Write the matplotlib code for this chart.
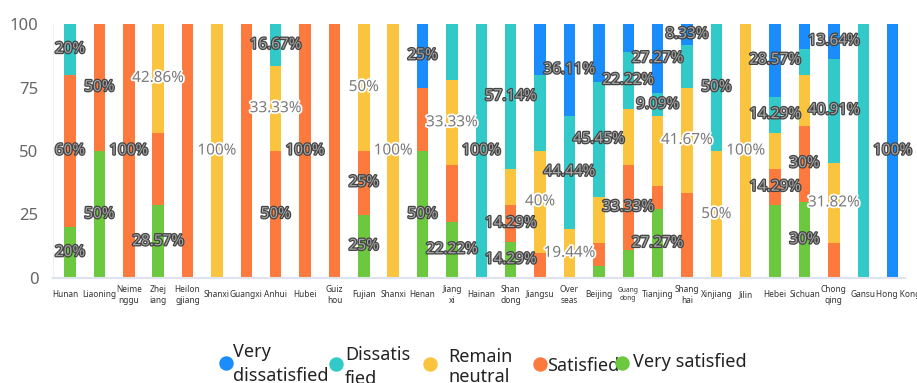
import matplotlib.pyplot as plt
import matplotlib.patheffects as pe
import matplotlib.transforms as mtransforms
import numpy as np

plt.rcParams['font.family'] = ['Noto Sans', 'DejaVu Sans']

categories = ["Hunan", "Liaoning", "Neime\nnggu", "Zhej\niang", "Heilon\ngjiang",
              "Shanxi", "Guangxi", "Anhui", "Hubei", "Guiz\nhou", "Fujian", "Shanxi",
              "Henan", "Jiang\nxi", "Hainan", "Shan\ndong", "Jiangsu", "Over\nseas",
              "Beijing", "Guang\ndong", "Tianjing", "Shang\nhai", "Xinjiang", "Jilin",
              "Hebei", "Sichuan", "Chong\nqing", "Gansu", "Hong Kong"]

# percentages per category, stacked bottom -> top
very_satisfied = [20, 50, 0, 28.57, 0, 0, 0, 0, 0, 0, 25, 0, 50, 22.22, 0, 14.29, 0, 0,
                  4.55, 11.11, 27.27, 0, 0, 0, 28.57, 30, 0, 0, 0]
satisfied = [60, 50, 100, 28.57, 100, 0, 100, 50, 100, 100, 25, 0, 25, 22.22, 0, 14.29, 10, 0,
             9.09, 33.33, 9.09, 33.33, 0, 0, 14.29, 30, 13.64, 0, 0]
neutral = [0, 0, 0, 42.86, 0, 100, 0, 33.33, 0, 0, 50, 100, 0, 33.33, 0, 14.29, 40, 19.44,
           18.18, 22.22, 27.27, 41.67, 50, 100, 14.29, 20, 31.82, 0, 0]
dissatisfied = [20, 0, 0, 0, 0, 0, 0, 16.67, 0, 0, 0, 0, 0, 22.22, 100, 57.14, 30, 44.44,
                45.45, 22.22, 9.09, 16.67, 50, 0, 14.29, 10, 40.91, 100, 0]
very_dissatisfied = [0, 0, 0, 0, 0, 0, 0, 0, 0, 0, 0, 0, 25, 0, 0, 0, 20, 36.11,
                     22.73, 11.11, 27.27, 8.33, 0, 0, 28.57, 10, 13.64, 0, 100]

# labels that survive overlap hiding
shown_vs = [0, 1, 3, 10, 12, 13, 15, 20, 25]
shown_s = [0, 1, 2, 7, 8, 10, 15, 19, 24, 25]
shown_n = [3, 5, 7, 10, 11, 13, 16, 17, 21, 22, 23, 26]
shown_d = [0, 7, 14, 15, 17, 18, 19, 20, 22, 24, 26]
shown_vd = [12, 17, 20, 21, 24, 26, 28]

GREEN, ORANGE, YELLOW, TEAL, BLUE = '#6cc83e', '#fd7a3e', '#fbc43e', '#31cac8', '#1a8cfc'

series = [
    (very_satisfied, GREEN, shown_vs),
    (satisfied, ORANGE, shown_s),
    (neutral, YELLOW, shown_n),
    (dissatisfied, TEAL, shown_d),
    (very_dissatisfied, BLUE, shown_vd),
]

fig = plt.figure(figsize=(9.17, 3.83), dpi=100)
ax = fig.add_axes([53 / 917, 105 / 383, 852 / 917, 254 / 383])

x = np.arange(len(categories))
bottom = np.zeros(len(categories))
for vals, color, shown in series:
    vals = np.array(vals, dtype=float)
    ax.bar(x, vals, width=0.39, bottom=bottom, color=color, zorder=2)
    for i in shown:
        if color == YELLOW:
            fx = [pe.withStroke(linewidth=2.5, foreground='white')]
            tc = '#7a7a7a'
        else:
            fx = [pe.withStroke(linewidth=1.8, foreground='#444444')]
            tc = '#a4a4a4'
        ax.text(x[i], bottom[i] + vals[i] / 2, f"{vals[i]:g}%", ha='center', va='center',
                fontsize=11, color=tc, path_effects=fx, zorder=5)
    bottom += vals

ax.set_xlim(-0.58, len(categories) - 0.58)
ax.set_ylim(0, 100)
ax.set_yticks([0, 25, 50, 75, 100])
ax.tick_params(axis='y', length=0, pad=10.5, labelsize=12, labelcolor='#666666')
ax.set_xticks(x)
ax.set_xticklabels(categories, fontsize=6.0, color='#333333', linespacing=1.3)
ax.tick_params(axis='x', length=0, pad=12)
xlabels = ax.get_xticklabels()
for lab in xlabels:
    lab.set_va('center')
xlabels[19].set_fontsize(4.8)
# nudge the two outermost names apart from their neighbours
for lab, dx in [(xlabels[0], -5), (xlabels[-1], 6)]:
    lab.set_transform(lab.get_transform() +
                      mtransforms.ScaledTranslation(dx / 100, 0, fig.dpi_scale_trans))
for s in ['top', 'right']:
    ax.spines[s].set_visible(False)
ax.spines['bottom'].set_color('#dfe3ef')
ax.spines['left'].set_color('#eef0f6')
ax.spines['bottom'].set_linewidth(1.5)

# legend row along the bottom
leg = fig.add_axes([0, 0, 1, 1], zorder=-1)
leg.set_xlim(0, 917)
leg.set_ylim(383, 0)
leg.axis('off')
items = [
    (226, 363, BLUE, 233, 364, "Very\ndissatisfied", 1.45),
    (336, 364, TEAL, 345, 367, "Dissatis\nfied", 1.4),
    (430, 364, YELLOW, 448, 367, "Remain\nneutral", 1.2),
    (540, 364, ORANGE, 547, 366, "Satisfied", 1.2),
    (622, 363, GREEN, 633, 362, "Very satisfied", 1.2),
]
for cx, cy, c, tx, ty, label, ls in items:
    leg.scatter([cx], [cy], s=88, color=c, zorder=3)
    leg.text(tx, ty, label, fontsize=13, color='#222222', va='center', ha='left',
             linespacing=ls)

fig.savefig('out.png', dpi=100)
